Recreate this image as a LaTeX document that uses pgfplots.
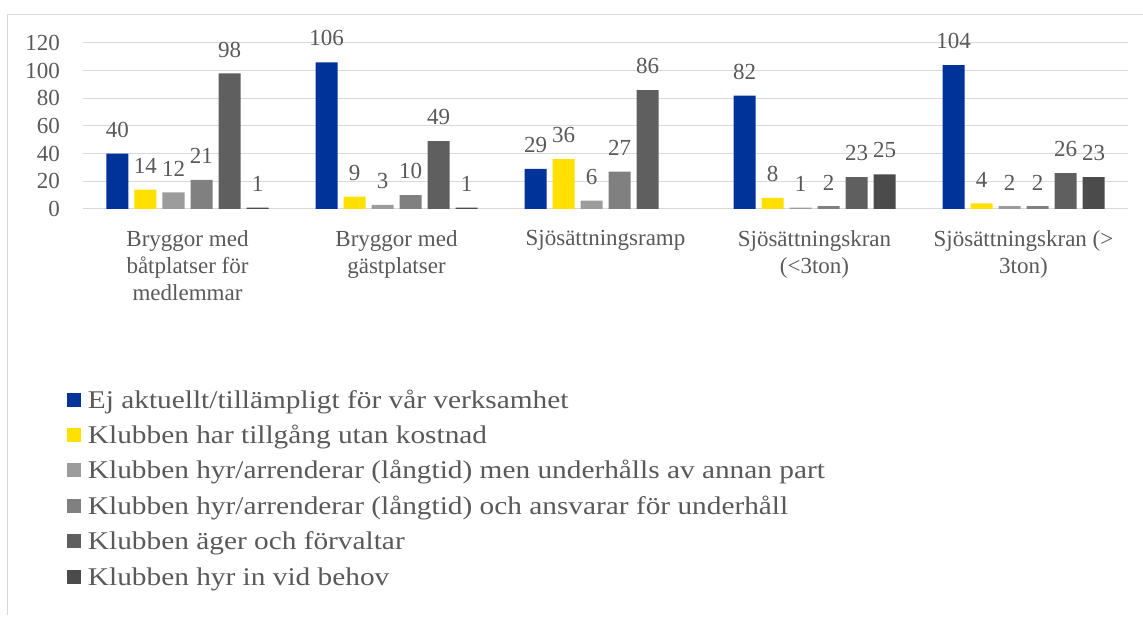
\documentclass[border=0pt]{standalone}
\usepackage{fontspec}
\setmainfont{Liberation Serif}
\newfontfamily\legfont{Liberation Serif}[FakeStretch=1.15]
\usepackage{pgfplots}
\pgfplotsset{compat=1.18}
\definecolor{txt}{HTML}{595959}
\definecolor{gridc}{HTML}{D9D9D9}
\definecolor{c1}{HTML}{003399}
\definecolor{c2}{HTML}{FFE000}
\definecolor{c3}{HTML}{9C9C9C}
\definecolor{c4}{HTML}{808080}
\definecolor{c5}{HTML}{5F5F5F}
\definecolor{c6}{HTML}{4B4B4B}
\begin{document}
\begin{tikzpicture}
\useasboundingbox (-83pt,-408pt) rectangle (1060pt,209pt);
\draw[gridc, line width=1pt] (-75pt,-406pt) -- (-75pt,194.5pt) -- (1060pt,194.5pt);
\begin{axis}[
  scale only axis, width=1045pt, height=166pt,
  xmin=-0.5, xmax=4.5, ymin=0, ymax=120,
  ytick={0,20,...,120},
  xtick={0,1,2,3,4},
  xticklabels={{Bryggor med\\båtplatser för\\medlemmar},{Bryggor med\\gästplatser},{Sjösättningsramp},{Sjösättningskran\\(<3ton)},{Sjösättningskran (>\\3ton)}},
  ymajorgrids, grid style={gridc, line width=1pt},
  axis x line*=bottom, axis y line*=left,
  x axis line style={gridc, line width=1pt, -},
  y axis line style={draw=none},
  major tick length=0pt,
  /pgf/number format/assume math mode=true,
  xticklabel style={align=center, text=txt, font=\fontsize{23}{27}\selectfont, anchor=north, inner sep=0pt, yshift=-21pt},
  yticklabel style={text=txt, font=\fontsize{23}{26}\selectfont, anchor=east, inner sep=0pt, xshift=-23pt},
  ybar=6pt, bar width=22pt,
  nodes near coords,
  nodes near coords style={text=txt, font=\fontsize{23}{26}\selectfont, anchor=south, inner sep=0pt, yshift=16pt},
  legend image code/.code={\fill[#1] (0pt,-4.5pt) rectangle (14pt,9.5pt); \path (21pt,2.5pt);},
  legend style={at={(0,0)}, anchor=north west, xshift=-16pt, yshift=-179pt,
    draw=none, fill=none, inner sep=0pt, outer sep=0pt, row sep=7.4pt, column sep=0pt,
    font=\legfont\fontsize{25.5}{30}\selectfont, text=txt,
    nodes={inner sep=0pt, text height=20pt, text depth=8pt}},
  legend cell align=left,
]
\addplot[fill=c1, draw=none] coordinates {(0,40) (1,106) (2,29) (3,82) (4,104)};
\addplot[fill=c2, draw=none] coordinates {(0,14) (1,9) (2,36) (3,8) (4,4)};
\addplot[fill=c3, draw=none] coordinates {(0,12) (1,3) (2,6) (3,1) (4,2)};
\addplot[fill=c4, draw=none] coordinates {(0,21) (1,10) (2,27) (3,2) (4,2)};
\addplot[fill=c5, draw=none] coordinates {(0,98) (1,49) (2,86) (3,23) (4,26)};
\addplot[fill=c6, draw=none] coordinates {(0,1) (1,1) (3,25) (4,23)};
\legend{Ej aktuellt/tillämpligt för vår verksamhet,Klubben har tillgång utan kostnad,Klubben hyr/arrenderar (långtid) men underhålls av annan part,Klubben hyr/arrenderar (långtid) och ansvarar för underhåll,Klubben äger och förvaltar,Klubben hyr in vid behov}
\end{axis}
\end{tikzpicture}
\end{document}
